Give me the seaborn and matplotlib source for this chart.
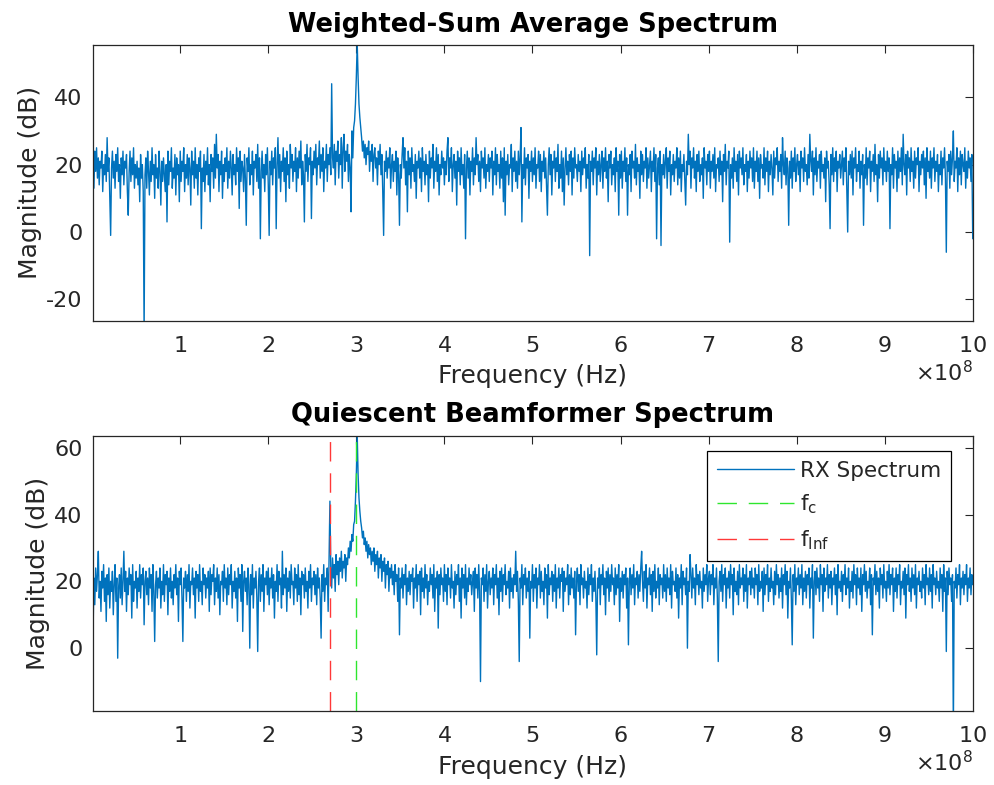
import numpy as np
import matplotlib
matplotlib.use("Agg")
import matplotlib.pyplot as plt
import seaborn as sns
from matplotlib.ticker import MultipleLocator, ScalarFormatter

# ---------------------------------------------------------------------------
# Data: magnitudes in dB, evenly spaced bins
# from 1 MHz to 1 GHz (one row of 10 values = 0.1e8 Hz)
# ---------------------------------------------------------------------------
FREQ_START_HZ = 1e6
FREQ_STOP_HZ = 1e9

FC_HZ = 3.0e8      # carrier
FINF_HZ = 2.7e8    # interferer

WEIGHTED_SUM_DB = [
    20, 13, 24, 18, 25, 16, 22, 14, 21, 19, 24, 12, 20, 17, 23, 15, 28, 18, 22, 11,
    -1, 19, 24, 16, 21, 13, 23, 18, 25, 15, 20, 10, 22, 17, 24, 14, 21, 19, 23, 12,
    5, 18, 24, 15, 22, 17, 25, 13, 20, 16,
    21, 14, 19, 9, 23, 16, 20, 12, -30, 17, 22, 13, 24, 18, 11, 21, 15, 25, 17, 20,
    10, 23, 16, 19, 13, 24, 18, 8, 21, 15, 22, 17, 12, 20, 3, 24, 14, 21, 18, 25,
    13, 19, 16, 23, 11, 22, 17, 20, 9, 24,
    15, 21, 18, 25, 12, 20, 16, 23, 14, 22, 19, 8, 24, 17, 21, 13, 25, 16, 20, 11,
    22, 18, 24, 1, 19, 15, 23, 12, 21, 17, 25, 14, 20, 9, 23, 18, 22, 13, 26, 16,
    29, 19, 23, 12, 21, 17, 24, 10, 20, 15,
    22, 18, 25, 13, 21, 16, 24, 19, 11, 23, 17, 20, 14, 25, 18, 22, 7, 24, 15, 21,
    19, 12, 23, 16, 2, 22, 18, 25, 14, 20, 17, 24, 11, 21, 19, 23, 15, 26, 13, 22,
    -2, 18, 24, 16, 20, 12, 23, 17, 25, 14,
    -1, 21, 17, 24, 14, 22, 19, 25, 1, 20, 28, 16, 23, 12, 21, 18, 25, 15, 22, 9,
    24, 17, 20, 13, 26, 19, 23, 15, 21, 18, 25, 12, 22, 16, 24, 19, 27, 14, 21, 17,
    3, 23, 18, 26, 15, 22, 20, 25, 4, 21,
    17, 24, 19, 26, 14, 22, 20, 27, 16, 23, 18, 25, 12, 21, 19, 26, 15, 23, 20, 25,
    17, 44, 22, 19, 26, 14, 24, 21, 27, 16, 23, 20, 28, 13, 25, 29, 18, 24, 21, 26,
    15, 23, 19, 6, 30, 22, 31, 33, 38, 46,
    56, 46, 38, 34, 31, 28, 24, 27, 22, 26, 20, 25, 23, 27, 18, 24, 21, 26, 15, 23,
    25, 19, 22, 14, 24, 20, 26, 17, 23, 12, -1, 21, 18, 24, 16, 22, 19, 25, 13, 20,
    23, 15, 21, 18, 24, 11, 22, 17, 2, 20,
    16, 23, 28, 19, 25, 14, 21, 6, 24, 17, 22, 13, 25, 18, 20, 15, 23, 10, 21, 19,
    24, 16, 22, 12, 25, 18, 21, 14, 23, 17, 20, 9, 24, 16, 22, 19, 26, 13, 21, 18,
    25, 15, 23, 11, 20, 17, 24, 19, 22, 14,
    21, 17, 24, 28, 15, 22, 19, 25, 12, 20, 23, 16, 21, 8, 24, 18, 22, 14, 25, 17,
    20, 13, 23, -2, 19, 24, 16, 22, 11, 21, 18, 25, 14, 22, 17, 28, 20, 23, 15, 21,
    12, 24, 19, 22, 16, 25, 13, 20, 18, 23,
    15, 22, 19, 24, 11, 21, 17, 25, 14, 23, 18, 20, 13, 24, 16, 22, 9, 25, 5, 21,
    17, 23, 14, 20, 19, 26, 12, 22, 18, 24, 15, 21, 13, 24, 17, 22, 31, 3, 20, 16,
    25, 14, 22, 19, 23, 10, 21, 18, 24, 15,
    22, 17, 25, 13, 20, 19, 24, 15, 23, 12, 21, 18, 24, 16, 22, 14, 5, 20, 25, 17,
    23, 11, 21, 19, 24, 15, 22, 18, 26, 13, 20, 16, 24, 12, 22, 8, 19, 25, 17, 21,
    14, 23, 18, 24, 11, 22, 16, 25, 19, 20,
    15, 23, 18, 21, 12, 24, 17, 22, 19, 25, 13, 20, 16, 23, -7, 21, 18, 24, 14, 22,
    19, 25, 11, 21, 17, 23, 15, 20, 24, 13, 22, 18, 25, 16, 21, 9, 23, 19, 24, 14,
    20, 17, 22, 12, 25, 18, 21, 5, 23, 16,
    24, 13, 21, 18, 25, 15, 22, 5, 20, 17, 23, 12, 24, 19, 21, 16, 26, 14, 22, 18,
    20, 10, 24, 17, 23, 15, 21, 19, 25, 13, 22, 16, 20, 24, 12, 21, 18, 25, 15, 23,
    -2, 19, 22, 14, 24, -4, 20, 17, 23, 16,
    21, 25, 13, 22, 18, 24, 11, 20, 17, 23, 15, 21, 19, 25, 14, 22, 16, 24, 12, 20,
    18, 23, 15, 8, 21, 17, 29, 20, 24, 13, 22, 19, 25, 16, 21, 12, 23, 18, 24, 15,
    20, 17, 22, 10, 25, 19, 21, 14, 23, 18,
    24, 13, 21, 18, 23, 16, 25, 12, 20, 19, 22, 15, 24, 17, 21, 9, 23, 18, 26, 14,
    21, 19, 24, -3, 20, 16, 22, 13, 25, 18, 21, 15, 23, 11, 24, 19, 22, 17, 25, 14,
    20, 18, 23, 12, 21, 16, 24, 19, 22, 15,
    25, 13, 21, 18, 24, 15, 22, 10, 23, 19, 20, 16, 25, 14, 22, 18, 24, 12, 21, 17,
    23, 19, 11, 24, 16, 22, 20, 25, 15, 21, 18, 23, 13, 28, 20, 17, 24, 14, 22, 19,
    2, 21, 16, 24, 13, 22, 18, 25, 15, 20,
    23, 17, 21, 12, 24, 19, 22, 15, 25, 18, 20, 14, 23, 16, 29, 21, 18, 24, 11, 22,
    17, 25, 15, 21, 19, 23, 13, 24, 18, 20, 16, 22, 9, 24, 19, 21, 14, 1, 23, 17,
    25, 15, 22, 18, 24, 12, 21, 19, 23, 16,
    20, 24, 14, 22, 18, 25, 13, 0, 21, 17, 23, 16, 24, 11, 22, 19, 25, 15, 20, 18,
    24, 13, 21, 17, 23, 2, 20, 16, 25, 14, 22, 19, 24, 12, 21, 18, 23, 15, 26, 17,
    20, 9, 23, 16, 24, 19, 22, 14, 25, 18,
    21, 15, 24, 18, 22, 1, 20, 17, 25, 13, 23, 19, 21, 12, 24, 16, 22, 18, 25, 14,
    29, 20, 17, 23, 11, 24, 19, 22, 15, 25, 18, 21, 13, 24, 16, 22, 20, 25, 12, 21,
    17, 23, 19, 24, 14, 22, 10, 25, 18, 21,
    16, 24, 13, 22, 19, 25, 15, 21, 18, 23, 12, 20, 17, 24, 14, 22, 19, 25, 16, -6,
    21, 18, 23, 13, 24, 17, 22, 30, 15, 21, 19, 25, 12, 22, 17, 24, 14, 23, 20, 18,
    25, 13, 21, 16, 24, 19, 22, 15, 23, -2,
]

QUIESCENT_DB = [
    4, 21, 13, 24, 17, 22, 29, 15, 20, 11, 23, 18, 25, 14, 21, 8, 22, 16, 24, 12,
    20, 17, 23, 10, 19, 25, 14, 21, -3, 18, 22, 15, 24, 13, 20, 29, 17, 23, 11, 21,
    16, 24, 19, 22, 9, 25, 14, 20, 18, 23,
    12, 21, 17, 25, 15, 22, 19, 24, 7, 20, 23, 16, 21, 13, 24, 18, 22, 11, 25, 17,
    2, 19, 23, 15, 21, 18, 24, 12, 20, 16, 25, 14, 22, 19, 23, 10, 21, 17, 24, 15,
    20, 13, 22, 18, 25, 16, 21, 8, 23, 19,
    24, 15, 2, 21, 18, 23, 14, 22, 17, 25, 12, 20, 19, 24, 16, 21, 9, 23, 18, 22,
    14, 25, 17, 20, 13, 24, 19, 22, 15, 21, 18, 23, 11, 24, 16, 22, 20, 25, 13, 21,
    17, 24, 15, 22, 10, 20, 19, 23, 14, 25,
    18, 21, 13, 24, 16, 22, 19, 25, 12, 20, 17, 23, 15, 21, 8, 24, 18, 22, 14, 25,
    5, 20, 23, 17, 21, 13, 24, 19, 0, 22, 16, 25, 12, 21, 18, 23, 15, -1, 20, 24,
    14, 22, 17, 25, 11, 21, 19, 23, 16, 24,
    13, 21, 18, 24, 15, 22, 9, 20, 17, 25, 14, 23, 19, 21, 12, 29, 16, 22, 18, 24,
    11, 21, 17, 23, 15, 25, 19, 20, 13, 24, 18, 22, 14, 25, 16, 21, 10, 23, 19, 22,
    15, 24, 17, 20, 12, 23, 18, 25, 14, 21,
    19, 23, 16, 22, 13, 24, 18, 21, 15, 3, 22, 17, 25, 14, 21, 19, 24, 11, 26, 44,
    24, 18, 27, 21, 25, 17, 28, 22, 26, 19, 27, 23, 29, 21, 26, 24, 28, 20, 27, 25,
    30, 27, 32, 29, 34, 32, 37, 38, 44, 52,
    64, 52, 45, 41, 38, 36, 33, 35, 31, 33, 29, 32, 27, 31, 28, 30, 25, 29, 26, 30,
    23, 28, 25, 29, 21, 27, 24, 28, 20, 26, 23, 27, 18, 25, 22, 26, 17, 24, 21, 25,
    19, 23, 16, 25, 20, 22, 14, 24, 4, 21,
    18, 24, 15, 22, 19, 25, 13, 21, 17, 23, 16, 22, 20, 24, 12, 21, 18, 25, 14, 22,
    19, 23, 10, 24, 17, 21, 15, 25, 18, 22, 13, 20, 17, 24, 19, 22, 15, 25, 11, 21,
    18, 23, 6, 22, 16, 24, 19, 21, 14, 25,
    17, 22, 13, 24, 19, 21, 15, 25, 18, 20, 12, 23, 16, 22, 19, 25, 14, 21, 9, 24,
    18, 22, 15, 25, 13, 21, 17, 24, 19, 22, 16, 20, 23, 11, 24, 18, 22, 15, 25, 17,
    -10, 21, 19, 24, 14, 22, 17, 25, 12, 20,
    23, 16, 21, 18, 24, 13, 22, 19, 25, 15, 21, 10, 23, 17, 24, 14, 22, 19, 25, 16,
    20, 18, 23, 12, 24, 17, 21, 15, 22, 19, 29, 17, 23, 14, -4, 21, 18, 25, 13, 22,
    19, 24, 15, 21, 17, 23, 3, 20, 18, 25,
    14, 22, 18, 24, 12, 21, 19, 25, 15, 23, 17, 20, 13, 24, 18, 22, 9, 25, 16, 21,
    19, 23, 14, 22, 17, 25, 12, 21, 18, 24, 15, 22, 20, 24, 11, 23, 17, 21, 19, 25,
    13, 22, 16, 24, 18, 21, 15, 23, 4, 20,
    24, 17, 22, 13, 25, 19, 21, 15, 23, 18, 20, 12, 24, 16, 22, 19, 25, 14, 21, 17,
    23, 15, -2, 21, 18, 24, 13, 22, 19, 25, 16, 21, 10, 23, 18, 24, 14, 22, 17, 25,
    19, 21, 13, 24, 16, 22, 18, 25, 8, 21,
    17, 23, 15, 22, 19, 24, 12, 21, 1, 20, 24, 16, 22, 18, 25, 13, 21, 19, 23, 15,
    22, 17, 24, 29, 20, 14, 23, 18, 25, 12, 21, 19, 24, 16, 22, 11, 23, 17, 25, 15,
    20, 18, 24, 13, 22, 19, 21, 15, 25, 17,
    22, 14, 24, 18, 21, 16, 25, 12, 23, 19, 20, 17, 24, 15, 22, 9, 21, 18, 25, 13,
    23, 19, 21, 16, 24, 0, 20, 17, 28, 22, 15, 24, 18, 21, 13, 25, 19, 22, 16, 23,
    18, 20, 12, 24, 17, 22, 19, 25, 14, 21,
    23, 16, 22, 19, 25, 13, 21, 18, 24, 15, -4, 20, 23, 17, 25, 14, 22, 19, 24, 12,
    21, 18, 23, 15, 25, 19, 22, 10, 24, 17, 20, 16, 23, 13, 25, 18, 21, 19, 24, 14,
    22, 17, 25, 12, 21, 19, 23, 16, 24, 18,
    21, 15, 24, 19, 22, 13, 25, 17, 20, 18, 23, 11, 24, 16, 22, 19, 25, 14, 21, 17,
    24, 18, 20, 13, 23, 16, 25, 19, 22, 15, 21, 17, 24, 12, 22, 19, 25, 16, 23, 9,
    20, 18, 24, 15, 1, 22, 17, 25, 13, 21,
    19, 24, 16, 22, 18, 25, 13, 21, 17, 23, 15, 22, 19, 24, 12, 21, 18, 25, 3, 20,
    23, 16, 24, 18, 21, 14, 25, 19, 22, 11, 24, 17, 21, 19, 25, 15, 22, 18, 23, 13,
    21, 19, 24, 16, 22, 10, 25, 18, 20, 17,
    23, 14, 22, 19, 25, 16, 21, 18, 24, 12, 20, 17, 23, 15, 25, 19, 22, 13, 24, 18,
    21, 16, 24, 11, 22, 19, 25, 17, 23, 15, 20, 18, 24, 13, 22, 4, 21, 19, 25, 16,
    23, 17, 21, 12, 24, 19, 22, 15, 25, 18,
    20, 14, 23, 18, 25, 16, 22, 19, 24, 11, 21, 17, 24, 15, 22, 19, 25, 13, 20, 18,
    23, 16, 24, 9, 22, 19, 25, 17, 21, 14, 24, 18, 22, 16, 25, 12, 21, 19, 23, 17,
    20, 15, 24, 18, 22, 13, 25, 19, 21, 16,
    24, 17, 22, 12, 25, 19, 21, 16, 23, 18, 20, 14, 24, 18, 22, 11, 25, 17, 21, -1,
    23, 16, 24, 19, 21, 14, 22, -25, 20, 18, 24, 15, 22, 19, 25, 13, 21, 18, 23, 16,
    22, 19, 25, 14, 21, 18, 24, 16, 22, 19,
]

TITLES = ["Weighted-Sum Average Spectrum", "Quiescent Beamformer Spectrum"]
YLIMS = [(-26.3, 55.5), (-18.8, 63.6)]

LINE_BLUE = "#0072BD"
AX_GREY = "#262626"


def style_axis(ax, title, ylim, freqs):
    ax.set_xlim(freqs[0], freqs[-1])
    ax.set_ylim(*ylim)
    ax.xaxis.set_major_locator(MultipleLocator(1e8))
    ax.yaxis.set_major_locator(MultipleLocator(20))
    fmt = ScalarFormatter(useMathText=True)
    fmt.set_powerlimits((8, 8))
    ax.xaxis.set_major_formatter(fmt)
    ax.tick_params(direction="in", top=True, right=True, length=5.5,
                   width=0.8, colors=AX_GREY, labelsize=16)
    ax.tick_params(axis="x", pad=11)
    ax.tick_params(axis="y", pad=7.5)
    ax.xaxis.get_offset_text().set_fontsize(16)
    ax.xaxis.get_offset_text().set_color(AX_GREY)
    for sp in ax.spines.values():
        sp.set_color(AX_GREY)
        sp.set_linewidth(0.9)
    ax.set_title(title, fontsize=18.5, fontweight="bold", color="black", pad=9.5)
    ax.set_xlabel("Frequency (Hz)", fontsize=18, color=AX_GREY, labelpad=6)
    ax.set_ylabel("Magnitude (dB)", fontsize=18, color=AX_GREY, labelpad=3)


def main():
    sns.set_theme(style="white")
    plt.rcParams["font.family"] = ["DejaVu Sans"]
    plt.rcParams["axes.unicode_minus"] = False

    fig = plt.figure(figsize=(9.94, 7.85), dpi=100)
    ax_top = fig.add_axes([0.0936, 0.5915, 0.885, 0.3512])
    ax_bot = fig.add_axes([0.0936, 0.0943, 0.885, 0.3507])

    # Top: weighted-sum average spectrum
    f_top = np.linspace(FREQ_START_HZ, FREQ_STOP_HZ, len(WEIGHTED_SUM_DB))
    sns.lineplot(x=f_top, y=WEIGHTED_SUM_DB, ax=ax_top, color=LINE_BLUE,
                 linewidth=1.0, estimator=None, sort=False)
    style_axis(ax_top, TITLES[0], YLIMS[0], f_top)

    # Bottom: quiescent beamformer spectrum with markers for fc / finf
    f_bot = np.linspace(FREQ_START_HZ, FREQ_STOP_HZ, len(QUIESCENT_DB))
    sns.lineplot(x=f_bot, y=QUIESCENT_DB, ax=ax_bot, color=LINE_BLUE,
                 linewidth=1.0, estimator=None, sort=False, label="RX Spectrum")
    ax_bot.axvline(FC_HZ, color="#2ee62e", linestyle=(0, (14, 8.5)), linewidth=1.0,
                   label=r"$\mathregular{f_{c}}$")
    ax_bot.axvline(FINF_HZ, color="#ff3838", linestyle=(0, (14, 8.5)), linewidth=1.0,
                   label=r"$\mathregular{f_{Inf}}$")
    style_axis(ax_bot, TITLES[1], YLIMS[1], f_bot)

    leg = ax_bot.legend(loc="upper right", bbox_to_anchor=(0.975, 0.944),
                        borderaxespad=0, fontsize=15.5, handlelength=3.6,
                        labelspacing=0.55, fancybox=False, framealpha=1,
                        edgecolor="black", borderpad=0.45, handletextpad=0.25)
    leg.get_frame().set_linewidth(0.9)
    for t in leg.get_texts():
        t.set_color(AX_GREY)

    fig.savefig("out.png", dpi=100)
    plt.close(fig)


if __name__ == "__main__":
    main()
